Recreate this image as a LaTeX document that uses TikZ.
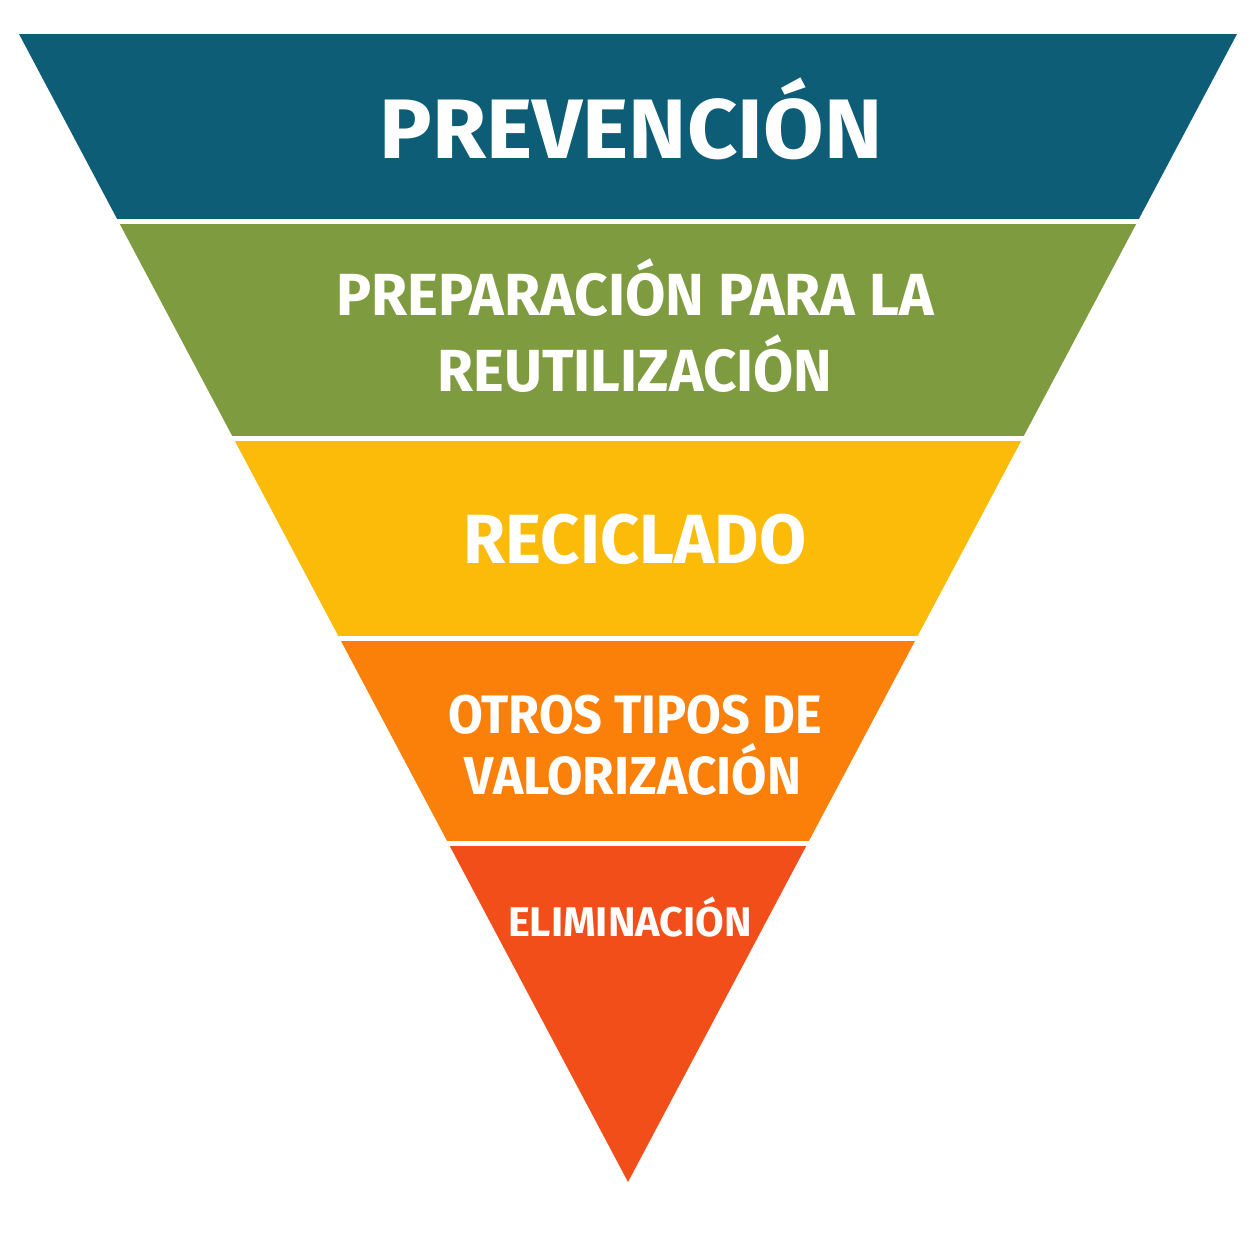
\documentclass[tikz,border=0pt]{standalone}
\usepackage{fontspec}
\setmainfont{Fira Sans}
\definecolor{cteal}{HTML}{0E5D76}
\definecolor{cgreen}{HTML}{7F9B40}
\definecolor{cyellow}{HTML}{FBBB08}
\definecolor{corange}{HTML}{FB800A}
\definecolor{cred}{HTML}{F24E19}
\tikzset{
  lab/.style={text=white, font=\bfseries, anchor=base, inner sep=0pt},
}
\newcommand{\fs}[1]{\bfseries\fontsize{#1}{#1}\selectfont}
\begin{document}
\begin{tikzpicture}[x=0.01cm,y=-0.01cm]
\useasboundingbox[fill=white] (0,0) rectangle (1254,1254);
\begin{scope}
  \clip (19,34) -- (1237,34) -- (628,1182) -- cycle;
  \fill[cteal]   (0,34)  rectangle (1254,219);
  \fill[cgreen]  (0,224) rectangle (1254,436);
  \fill[cyellow] (0,441) rectangle (1254,636);
  \fill[corange] (0,641) rectangle (1254,841);
  \fill[cred]    (0,846) rectangle (1254,1190);
\end{scope}
\node[lab, font=\fs{24}, xscale=1.04] (t1) at (631,158) {PREVENCIÓN};
\node[lab, font=\fs{16.9}, xscale=0.985] (t2a) at (635,315) {PREPARACIÓN PARA LA};
\node[lab, font=\fs{16.9}, xscale=0.98] (t2b) at (635,391) {REUTILIZACIÓN};
\node[lab, font=\fs{19.8}, xscale=0.98] (t3) at (635,563) {RECICLADO};
\node[lab, font=\fs{15.4}, xscale=0.93] (t4a) at (635,733) {OTROS TIPOS DE};
\node[lab, font=\fs{15.2}, xscale=0.96] (t4b) at (633,794) {VALORIZACIÓN};
\node[lab, font=\fs{11.8}] (t5) at (630,936) {ELIMINACIÓN};
\end{tikzpicture}
\end{document}
